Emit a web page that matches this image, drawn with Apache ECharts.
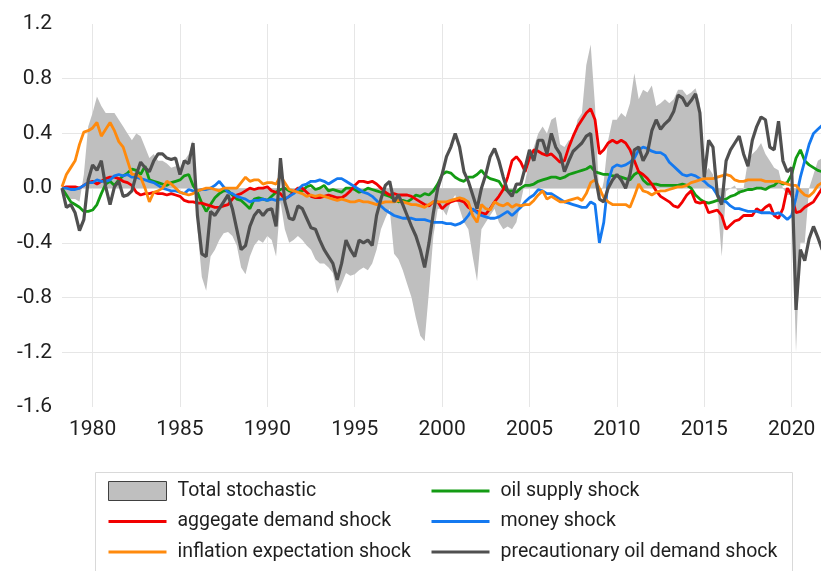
<!DOCTYPE html>
<html>
<head>
<meta charset="utf-8">
<script src="https://cdn.jsdelivr.net/npm/echarts@6/dist/echarts.min.js"></script>
<style>
  html, body { margin: 0; padding: 0; background: #fff; }
  #chart { width: 821px; height: 571px; }
</style>
</head>
<body>
<div id="chart"></div>
<script>
// quarterly time grid, 1978Q2 .. 2021Q4
const quarters = [];
for (let i = 0; i < 175; i++) quarters.push(1978.25 + i * 0.25);

const yearTicks = [1980, 1985, 1990, 1995, 2000, 2005, 2010, 2015, 2020];

// values, two years per row (first row: 1978Q2-1979Q4)
const totalStochastic = [
  0.0, -0.05, -0.08, -0.08, -0.1, 0.1, 0.45,
  0.55, 0.67, 0.6, 0.55, 0.55, 0.55, 0.5, 0.45,
  0.4, 0.35, 0.4, 0.38, 0.3, 0.22, 0.25, 0.2,
  0.2, 0.18, 0.15, 0.16, 0.15, 0.2, 0.25, 0.35,
  -0.3, -0.65, -0.75, -0.5, -0.45, -0.38, -0.33, -0.32,
  -0.35, -0.42, -0.58, -0.63, -0.5, -0.42, -0.38, -0.4,
  -0.35, -0.38, -0.5, -0.1, -0.3, -0.4, -0.38, -0.35,
  -0.38, -0.42, -0.45, -0.52, -0.55, -0.55, -0.58, -0.62,
  -0.77, -0.7, -0.62, -0.64, -0.63, -0.6, -0.58, -0.6,
  -0.55, -0.45, -0.3, -0.22, -0.15, -0.48, -0.52, -0.6,
  -0.7, -0.8, -0.95, -1.08, -1.12, -0.75, -0.35, -0.15,
  -0.15, -0.2, -0.1, -0.05, -0.15, -0.25, -0.3, -0.5,
  -0.68, -0.3, -0.25, -0.2, -0.15, -0.25, -0.3, -0.28,
  -0.3, -0.25, -0.1, 0.05, 0.2, 0.3, 0.4, 0.45,
  0.4, 0.5, 0.52, 0.32, 0.3, 0.35, 0.35, 0.5,
  0.55, 0.9, 1.05, 0.6, -0.1, 0.05, 0.35, 0.5,
  0.5, 0.55, 0.52, 0.62, 0.84, 0.65, 0.72, 0.7,
  0.75, 0.6, 0.62, 0.65, 0.62, 0.65, 0.72, 0.72,
  0.68, 0.7, 0.73, 0.62, 0.1, 0.15, 0.1, -0.1,
  -0.5, -0.02, 0.0, 0.02, -0.05, 0.0, 0.2, 0.25,
  0.28, 0.33, 0.25, 0.2, 0.15, 0.13, 0.0, -0.05,
  -0.05, -1.2, -0.4, -0.4, 0.0, 0.1, 0.2, 0.22
];

const aggregateDemand = [
  0.0, 0.01, 0.01, 0.01, 0.0, 0.02, 0.04,
  0.05, 0.03, 0.05, 0.07, 0.08, 0.08, 0.07, 0.05,
  0.04, 0.02, -0.03, -0.05, -0.04, -0.04, -0.03, -0.04,
  -0.04, -0.05, -0.04, -0.05, -0.06, -0.09, -0.1, -0.1,
  -0.11, -0.11, -0.12, -0.13, -0.14, -0.14, -0.13, -0.12,
  -0.08, -0.05, -0.04, -0.02, 0.0, -0.01, 0.0, 0.0,
  0.01, -0.02, -0.03, -0.04, -0.08, -0.06, -0.03, 0.0,
  0.0, -0.03, -0.06, -0.07, -0.07, -0.06, -0.05, -0.06,
  -0.07, -0.07, -0.05, -0.02, 0.02, 0.05, 0.05, 0.04,
  0.05, 0.03, 0.0, -0.03, -0.05, -0.04, -0.05, -0.05,
  -0.05, -0.06, -0.08, -0.1, -0.12, -0.13, -0.1, -0.1,
  -0.15, -0.12, -0.1, -0.09, -0.09, -0.1, -0.14, -0.16,
  -0.17, -0.18, -0.19, -0.15, -0.1, -0.06, -0.01, 0.08,
  0.2, 0.23, 0.19, 0.12, 0.22, 0.28, 0.27, 0.25,
  0.24, 0.25, 0.22, 0.19, 0.2, 0.3, 0.38, 0.45,
  0.5, 0.55, 0.58, 0.5, 0.25, 0.28, 0.33, 0.35,
  0.33, 0.35, 0.33, 0.28, 0.2, 0.12, 0.1, 0.07,
  0.03, -0.02, -0.06, -0.08, -0.1, -0.13, -0.14, -0.1,
  -0.05, -0.02, -0.1, -0.11, -0.1, -0.18, -0.17, -0.16,
  -0.2, -0.3, -0.27, -0.24, -0.23, -0.2, -0.2, -0.2,
  -0.15, -0.17, -0.14, -0.12, -0.2, -0.22, -0.15, 0.0,
  -0.05, -0.18, -0.17, -0.14, -0.12, -0.1, -0.05, 0.0
];

const inflationExpectation = [
  0.01, 0.1, 0.15, 0.2, 0.32, 0.41, 0.42,
  0.44, 0.48, 0.38, 0.43, 0.48, 0.42, 0.34, 0.3,
  0.2, 0.1, 0.1, 0.08, 0.0, -0.1, -0.03, -0.02,
  0.0, 0.05, 0.03, 0.0, -0.03, -0.04, -0.05, -0.04,
  -0.02, -0.01, 0.0, 0.0, -0.01, -0.02, 0.0, 0.0,
  0.0, 0.0, 0.04, 0.08, 0.05, 0.06, 0.06, 0.03,
  0.04, 0.04, 0.03, 0.09, 0.04, -0.01, -0.02, -0.03,
  -0.04, -0.06, -0.05, -0.06, -0.05, -0.06, -0.07, -0.08,
  -0.09, -0.08, -0.09, -0.1, -0.1, -0.09, -0.1, -0.1,
  -0.11, -0.12, -0.11, -0.1, -0.1, -0.1, -0.09, -0.1,
  -0.11, -0.12, -0.12, -0.13, -0.14, -0.12, -0.1, -0.1,
  -0.1, -0.1, -0.09, -0.08, -0.07, -0.08, -0.1, -0.2,
  -0.25, -0.12, -0.15, -0.16, -0.1, -0.12, -0.13, -0.11,
  -0.14, -0.12, -0.13, -0.12, -0.12, -0.09, -0.05, -0.02,
  -0.08, -0.06, -0.08, -0.1, -0.1, -0.09, -0.08, -0.07,
  -0.09, -0.04, 0.04, 0.06, 0.0, -0.07, -0.1, -0.12,
  -0.12, -0.12, -0.12, -0.14, -0.06, 0.03, -0.02, -0.03,
  -0.05, -0.03, -0.02, -0.02, -0.01, 0.0, 0.01, 0.01,
  0.02, 0.04, 0.05, 0.06, 0.07, 0.07, 0.07, 0.08,
  0.09, 0.1, 0.09, 0.06, 0.05, 0.05, 0.06, 0.06,
  0.06, 0.06, 0.05, 0.05, 0.05, 0.05, 0.04, 0.03,
  0.02, 0.02, -0.02, -0.05, -0.06, -0.03, 0.02, 0.04
];

const oilSupply = [
  0.0, -0.05, -0.1, -0.12, -0.14, -0.17, -0.17,
  -0.16, -0.12, -0.04, 0.03, 0.05, 0.02, 0.06, 0.09,
  0.11, 0.14, 0.13, 0.1, 0.16, 0.06, 0.05, 0.04,
  0.03, 0.02, 0.04, 0.05, 0.06, 0.09, 0.1, 0.02,
  -0.03, -0.11, -0.17, -0.12, -0.07, -0.04, -0.02, -0.02,
  -0.05, -0.08, -0.09, -0.12, -0.15, -0.08, -0.07, -0.08,
  -0.09, -0.06, -0.03, -0.01, 0.0, -0.02, -0.03, -0.02,
  -0.02, 0.01, 0.02, -0.01, 0.0, 0.02, -0.02, -0.01,
  -0.02, -0.03, 0.0, 0.0, -0.01, -0.03, -0.02, 0.0,
  -0.01, -0.02, -0.03, -0.05, -0.06, -0.08, -0.1, -0.09,
  -0.1, -0.08, -0.05, -0.06, -0.04, -0.05, -0.02, 0.03,
  0.1, 0.12, 0.11, 0.08, 0.06, 0.05, 0.08, 0.08,
  0.1, 0.13, 0.09, 0.07, 0.06, 0.05, 0.0, -0.02,
  -0.02, -0.03, 0.0, 0.02, 0.02, 0.03, 0.05, 0.06,
  0.07, 0.08, 0.08, 0.07, 0.08, 0.1, 0.11, 0.12,
  0.13, 0.14, 0.16, 0.12, 0.11, 0.1, 0.1, 0.09,
  0.09, 0.08, 0.07, 0.06, 0.1, 0.12, 0.06, 0.03,
  0.03, 0.03, 0.02, 0.02, 0.02, 0.02, 0.02, 0.03,
  0.02, 0.0, -0.05, -0.08, -0.1, -0.11, -0.1, -0.09,
  -0.09, -0.08, -0.06, -0.05, -0.03, -0.02, -0.01, -0.01,
  0.0, 0.0, -0.01, 0.01, 0.02, 0.05, 0.03, 0.04,
  0.1, 0.22, 0.28, 0.2, 0.17, 0.15, 0.13, 0.12
];

const moneyShock = [
  0.0, 0.0, -0.01, -0.01, 0.0, 0.02, 0.04,
  0.04, 0.06, 0.05, 0.05, 0.06, 0.09, 0.1, 0.09,
  0.1, 0.08, 0.08, 0.07, 0.06, 0.05, 0.04, 0.02,
  0.0, -0.01, -0.02, -0.02, -0.03, -0.04, -0.01, -0.02,
  -0.02, -0.01, -0.01, 0.0, 0.02, 0.05, 0.01, -0.03,
  -0.04, -0.06, -0.07, -0.08, -0.1, -0.09, -0.09, -0.08,
  -0.09, -0.08, -0.09, -0.08, -0.08, -0.06, -0.04, -0.01,
  0.02, 0.03, 0.05, 0.05, 0.06, 0.05, 0.03, 0.05,
  0.07, 0.07, 0.05, 0.03, 0.01, -0.01, -0.03, -0.04,
  -0.06, -0.09, -0.13, -0.16, -0.18, -0.2, -0.21, -0.22,
  -0.22, -0.22, -0.23, -0.23, -0.23, -0.24, -0.25, -0.25,
  -0.25, -0.26, -0.26, -0.27, -0.26, -0.24, -0.2, -0.15,
  -0.18, -0.2, -0.21, -0.22, -0.22, -0.21, -0.19, -0.17,
  -0.2, -0.17, -0.14, -0.1, -0.07, -0.05, -0.01, -0.02,
  -0.04, -0.04, -0.06, -0.08, -0.1, -0.11, -0.12, -0.13,
  -0.14, -0.14, -0.1, -0.12, -0.4, -0.25, 0.05, 0.15,
  0.17, 0.16, 0.17, 0.19, 0.22, 0.28, 0.3, 0.29,
  0.27, 0.26, 0.26, 0.24, 0.19, 0.16, 0.13, 0.1,
  0.09, 0.1, 0.09, 0.07, 0.05, 0.02, 0.0, -0.05,
  -0.09, -0.1, -0.13, -0.15, -0.15, -0.16, -0.17, -0.17,
  -0.17, -0.18, -0.18, -0.18, -0.19, -0.18, -0.2, -0.23,
  -0.2, -0.07, 0.08, 0.2, 0.32, 0.4, 0.43, 0.46
];

const precautionaryDemand = [
  0.0, -0.14, -0.12, -0.18, -0.31, -0.23, 0.06,
  0.17, 0.13, 0.2, 0.01, -0.12, 0.01, 0.05, -0.06,
  -0.05, -0.02, 0.1, 0.19, 0.15, 0.12, 0.2, 0.25,
  0.25, 0.22, 0.21, 0.22, 0.1, 0.2, 0.18, 0.33,
  -0.2, -0.48, -0.5, -0.17, -0.2, -0.15, -0.1, -0.05,
  -0.15, -0.3, -0.45, -0.42, -0.28, -0.2, -0.16, -0.2,
  -0.16, -0.15, -0.28, 0.22, -0.1, -0.22, -0.23, -0.13,
  -0.15, -0.22, -0.29, -0.3, -0.38, -0.45, -0.5, -0.55,
  -0.67, -0.55, -0.38, -0.45, -0.5, -0.38, -0.4, -0.38,
  -0.42, -0.2, -0.08, 0.02, 0.05, -0.1, -0.05, -0.12,
  -0.2, -0.28, -0.35, -0.45, -0.58, -0.4, -0.18, 0.0,
  0.1, 0.23, 0.3, 0.4, 0.3, 0.12, 0.05, -0.05,
  -0.15, 0.0, 0.1, 0.23, 0.29, 0.2, 0.08, -0.02,
  -0.06, 0.03, 0.03, 0.15, 0.28, 0.2, 0.35, 0.35,
  0.25, 0.4, 0.3, 0.25, 0.12, 0.2, 0.27, 0.3,
  0.33, 0.38, 0.4, 0.1, -0.08, -0.1, 0.0, 0.06,
  0.1, 0.06, 0.0, 0.1, 0.28, 0.3, 0.2, 0.26,
  0.42, 0.5, 0.43, 0.47, 0.5, 0.56, 0.68, 0.66,
  0.6, 0.64, 0.69, 0.55, 0.08, 0.35, 0.3, -0.05,
  -0.12, 0.2, 0.28, 0.33, 0.38, 0.25, 0.16, 0.35,
  0.45, 0.52, 0.5, 0.3, 0.28, 0.49, 0.2, 0.12,
  0.15, -0.89, -0.45, -0.53, -0.37, -0.28, -0.36, -0.45
];

const pair = (vals) => vals.map((v, i) => [quarters[i], v]);

const fontFamily = 'Roboto, "Noto Sans", sans-serif';
const textColor = '#1f1f1f';
const gridColor = '#e6e6e6';

const lineSeries = (name, values, color, width) => ({
  name: name,
  type: 'line',
  data: pair(values),
  symbol: 'none',
  lineStyle: { color: color, width: width },
  itemStyle: { color: color },
  emphasis: { disabled: true }
});

// two legend columns inside one box; the circle marker of line icons is hidden
const legendBase = {
  orient: 'vertical',
  top: 481,
  padding: 0,
  itemWidth: 58,
  itemHeight: 19,
  itemGap: 10.5,
  selectedMode: false,
  itemStyle: { opacity: 0 },
  lineStyle: { width: 3 },
  textStyle: { fontSize: 19.5, fontFamily: fontFamily, color: textColor, padding: [0, 0, 0, 6] }
};

const chart = echarts.init(document.getElementById('chart'));
chart.setOption({
  animation: false,
  grid: { left: 62, right: 0, top: 24, bottom: 164 },
  xAxis: {
    type: 'value',
    min: 1978.25,
    max: 2021.68,
    splitNumber: 8,
    minInterval: 5,
    maxInterval: 5,
    axisLine: { show: false },
    axisTick: { show: false },
    axisLabel: {
      showMinLabel: false,
      showMaxLabel: false,
      margin: 12,
      color: textColor,
      fontSize: 21,
      fontFamily: fontFamily,
      formatter: (v) => (yearTicks.indexOf(v) >= 0 ? String(v) : '')
    },
    splitLine: { show: true, showMinLine: false, showMaxLine: false, lineStyle: { color: gridColor, width: 1 } }
  },
  yAxis: {
    type: 'value',
    min: -1.6,
    max: 1.2,
    interval: 0.4,
    axisLine: { show: false },
    axisTick: { show: false },
    axisLabel: {
      margin: 10,
      color: textColor,
      fontSize: 21,
      fontFamily: fontFamily,
      formatter: (v) => v.toFixed(1)
    },
    splitLine: { show: true, showMinLine: false, showMaxLine: false, lineStyle: { color: gridColor, width: 1 } }
  },
  legend: [
    Object.assign({}, legendBase, {
      left: 107,
      data: [
        { name: 'Total stochastic', icon: 'rect', itemStyle: { color: '#bfbfbf', borderColor: '#404040', borderWidth: 1, opacity: 1 } },
        'aggegate demand shock',
        'inflation expectation shock'
      ]
    }),
    Object.assign({}, legendBase, {
      left: 430,
      data: ['oil supply shock', 'money shock', 'precautionary oil demand shock']
    })
  ],
  graphic: [{
    type: 'rect',
    silent: true,
    shape: { x: 95.5, y: 472.5, width: 697, height: 110 },
    style: { fill: 'none', stroke: '#d9d9d9', lineWidth: 1 }
  }],
  series: [
    {
      name: 'Total stochastic',
      type: 'line',
      data: pair(totalStochastic),
      symbol: 'none',
      lineStyle: { width: 0 },
      itemStyle: { color: '#bfbfbf' },
      areaStyle: { color: '#bfbfbf', opacity: 1 },
      emphasis: { disabled: true }
    },
    lineSeries('oil supply shock', oilSupply, '#139b13', 2.8),
    lineSeries('aggegate demand shock', aggregateDemand, '#f20000', 2.8),
    lineSeries('money shock', moneyShock, '#1479f0', 2.8),
    lineSeries('inflation expectation shock', inflationExpectation, '#ff8a0d', 2.8),
    lineSeries('precautionary oil demand shock', precautionaryDemand, '#505050', 3.2)
  ]
});
</script>
</body>
</html>
